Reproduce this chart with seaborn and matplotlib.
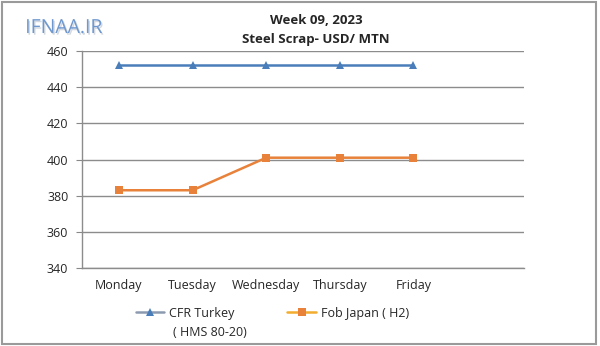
import matplotlib
matplotlib.use("Agg")
import matplotlib.pyplot as plt
import matplotlib.patheffects as pe
import seaborn as sns
import pandas as pd
from matplotlib.patches import Rectangle

days = ["Monday", "Tuesday", "Wednesday", "Thursday", "Friday"]
cfr_turkey = [452, 452, 452, 452, 452]
fob_japan = [383, 383, 401, 401, 401]
series_names = ["CFR Turkey", "Fob Japan ( H2)"]
cfr_subtitle = "( HMS 80-20)"
y_ticks = [340, 360, 380, 400, 420, 440, 460]

df = pd.DataFrame({
    "pos": list(range(len(days))) * 2,
    "price": cfr_turkey + fob_japan,
    "series": [series_names[0]] * len(days) + [series_names[1]] * len(days),
})

sns.set_style("white")
plt.rcParams["font.family"] = ["Open Sans", "DejaVu Sans"]

fig = plt.figure(figsize=(6.0, 3.46), dpi=100)
ax = fig.add_axes([0.137, 0.2254, 0.736, 0.6272])

palette = {series_names[0]: "#4a7ebb", series_names[1]: "#e8823a"}
markers = {series_names[0]: "^", series_names[1]: "s"}
sns.lineplot(data=df, x="pos", y="price", hue="series", style="series",
             palette=palette, markers=markers, dashes=False, markersize=6,
             markeredgewidth=0, linewidth=1.8, ax=ax, legend=True)

ax.set_ylim(340, 460)
ax.set_yticks(y_ticks)
ax.set_yticklabels([str(v) for v in y_ticks], fontsize=9)
ax.set_xlim(-0.5, 5.5)
ax.set_xticks(range(len(days)))
ax.set_xticklabels(days, fontsize=9)
ax.set_xticks([i - 0.5 for i in range(7)], minor=True)
ax.tick_params(axis="x", which="major", length=0, pad=8)
ax.tick_params(axis="x", which="minor", length=4, color="#888888", direction="out")
ax.tick_params(axis="y", length=4, color="#888888", direction="out", pad=6, left=True)
ax.set_xlabel("")
ax.set_ylabel("")
ax.grid(axis="y", color="#8c8c8c", linewidth=1)
ax.set_axisbelow(True)
for side in ["top", "right"]:
    ax.spines[side].set_visible(False)
for side in ["left", "bottom"]:
    ax.spines[side].set_color("#8c8c8c")
    ax.spines[side].set_linewidth(1)

# legend keys: tinted line with the series marker on top
handles, labels = ax.get_legend_handles_labels()
ax.legend_.remove()
key_line_colors = ["#8c9ab0", "#f2ac2e"]
for h, c in zip(handles, key_line_colors):
    h.set_color(c)
    h.set_linewidth(1.8)
for h, c in zip(handles, ["#4a7ebb", "#e8823a"]):
    h.set_markerfacecolor(c)
    h.set_markeredgecolor(c)
leg = fig.legend(handles, labels, ncol=2, frameon=False, fontsize=9,
                 loc="center left", bbox_to_anchor=(0.226, 0.095),
                 handlelength=2.3, columnspacing=4.2, handletextpad=0.4,
                 borderaxespad=0, borderpad=0)
fig.text(0.288, 0.04, cfr_subtitle, ha="left", va="center", fontsize=9)

fig.text(0.527, 0.942, "Week 09, 2023", ha="center", va="center",
         fontsize=9.5, fontweight="bold")
fig.text(0.527, 0.887, "Steel Scrap- USD/ MTN", ha="center", va="center",
         fontsize=9.5, fontweight="bold")

fig.text(0.042, 0.919, "IFNAA.IR", ha="left", va="center", fontsize=14,
         color="#6f98cf",
         path_effects=[pe.withSimplePatchShadow(offset=(1, -1.2),
                                                shadow_rgbFace="#c9d0d8", alpha=0.8)])

fig.patches.append(Rectangle((0.004, 0.006), 0.99, 0.988, transform=fig.transFigure,
                             fill=False, edgecolor="#9a9a9a", linewidth=1.5))

fig.savefig("out.png", dpi=100)
